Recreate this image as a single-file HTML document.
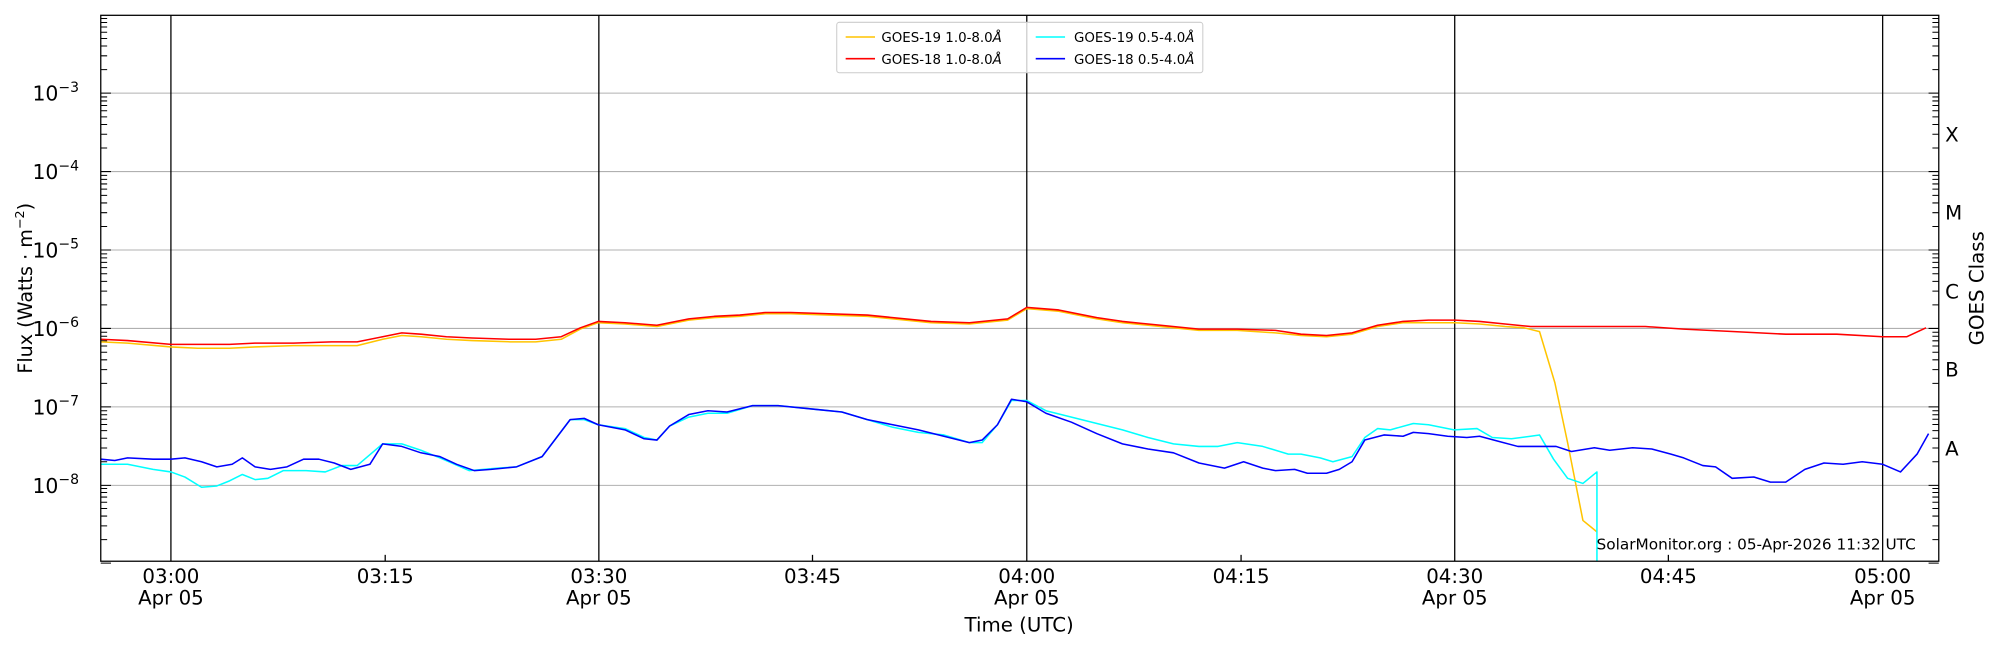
<!DOCTYPE html>
<html><head><meta charset="utf-8"><style>
html,body{margin:0;padding:0;background:#fff;}
svg{display:block;font-family:"DejaVu Sans","Liberation Sans",sans-serif;}
</style></head><body>
<svg width="2000" height="650" viewBox="0 0 1568 509.6" xmlns="http://www.w3.org/2000/svg">
<defs>
<path id="dec" d="M79,-18.45h5M79,-29.25h5M79,-36.9h5M79,-42.85h5M79,-47.7h5M79,-51.8h5M79,-55.36h5M79,-58.5h5M1515,-18.45h5M1515,-29.25h5M1515,-36.9h5M1515,-42.85h5M1515,-47.7h5M1515,-51.8h5M1515,-55.36h5M1515,-58.5h5M79,0h8M1512,0h8" stroke="#000" stroke-width="0.8" fill="none"/>
</defs>
<rect width="1568" height="510" fill="#fff"/>
<g stroke="#b0b0b0" stroke-width="0.8">
<line x1="79" x2="1520" y1="73" y2="73"/><line x1="79" x2="1520" y1="134.5" y2="134.5"/>
<line x1="79" x2="1520" y1="196" y2="196"/><line x1="79" x2="1520" y1="257.5" y2="257.5"/>
<line x1="79" x2="1520" y1="319" y2="319"/><line x1="79" x2="1520" y1="380.5" y2="380.5"/>
</g>
<g stroke="#000" stroke-width="1">
<line x1="134" x2="134" y1="12" y2="440"/><line x1="469.5" x2="469.5" y1="12" y2="440"/>
<line x1="805" x2="805" y1="12" y2="440"/><line x1="1140.5" x2="1140.5" y1="12" y2="440"/>
<line x1="1476" x2="1476" y1="12" y2="440"/>
<line x1="302" x2="302" y1="440" y2="435"/><line x1="637" x2="637" y1="440" y2="435"/>
<line x1="973" x2="973" y1="440" y2="435"/><line x1="1308" x2="1308" y1="440" y2="435"/>
</g>
<use href="#dec" transform="translate(0,441.5)"/>
<use href="#dec" transform="translate(0,380.5)"/>
<use href="#dec" transform="translate(0,319)"/>
<use href="#dec" transform="translate(0,257.5)"/>
<use href="#dec" transform="translate(0,196)"/>
<use href="#dec" transform="translate(0,134.5)"/>
<use href="#dec" transform="translate(0,73)"/>
<g fill="none" stroke-width="1.2" stroke-linejoin="round">
<polyline stroke="#ffc400" points="79,268 100,269 134,272 155,273 180,273 200,272 230,271 260,271 280,271 300,266 315,263 330,264 350,266 370,267 400,268 420,268 440,266 455,258 469,253 490,254 515,256 540,251 560,249 580,248 600,246 620,246 650,247 680,248 700,250 730,253 760,254 790,251 805,242 830,244 860,250 880,253 910,256 940,259 970,259 1000,261 1020,263 1040,264 1060,262 1080,256 1100,253 1120,253 1141,253 1160,254 1180,256 1195,257 1207,260 1219,300 1229,347 1241,408 1252,417"/>
<polyline stroke="#ff0000" points="79,266 100,267 134,270 155,270 180,270 200,269 230,269 260,268 280,268 300,264 315,261 330,262 350,264 370,265 400,266 420,266 440,264 455,257 469,252 490,253 515,255 540,250 560,248 580,247 600,245 620,245 650,246 680,247 700,249 730,252 760,253 790,250 805,241 830,243 860,249 880,252 910,255 940,258 970,258 1000,259 1020,262 1040,263 1060,261 1080,255 1100,252 1120,251 1141,251 1160,252 1180,254 1200,256 1230,256 1260,256 1290,256 1320,258 1360,260 1400,262 1440,262 1476,264 1495,264 1510,257"/>
<polyline stroke="#00ffff" points="79,364 100,364 120,368 134,370 145,374 158,382 170,381 180,377 190,372 200,376 210,375 222,369 240,369 255,370 268,365 280,365 300,348 315,348 330,353 345,359 368,369 390,367 405,366 425,358 447,329 458,329 469,333 490,336 505,343 515,345 525,334 540,327 555,324 570,324 590,318 610,318 640,321 660,323 680,329 700,335 720,339 740,341 760,347 770,347 782,333 793,314 805,314 820,322 840,327 860,332 880,337 900,343 920,348 940,350 955,350 970,347 990,350 1010,356 1020,356 1035,359 1045,362 1060,358 1070,343 1080,336 1090,337 1108,332 1120,333 1140,337 1158,336 1170,343 1185,344 1200,342 1207,341 1218,360 1229,375 1241,379 1252,370 1252,440"/>
<polyline stroke="#0000ff" points="79,360 90,361 100,359 120,360 134,360 145,359 158,362 170,366 182,364 190,359 200,366 212,368 225,366 238,360 250,360 262,363 275,368 290,364 300,348 315,350 330,355 345,358 358,364 372,369 385,368 405,366 425,358 447,329 458,328 469,333 490,337 505,344 515,345 525,334 540,325 555,322 570,323 590,318 610,318 640,321 660,323 680,329 700,333 720,337 740,342 760,347 770,345 782,333 793,313 805,315 820,324 840,331 860,340 880,348 900,352 920,355 940,363 960,367 975,362 990,367 1000,369 1015,368 1025,371 1040,371 1050,368 1060,362 1070,345 1085,341 1100,342 1108,339 1120,340 1135,342 1150,343 1160,342 1175,346 1190,350 1205,350 1220,350 1232,354 1250,351 1262,353 1280,351 1295,352 1310,356 1320,359 1335,365 1345,366 1358,375 1375,374 1388,378 1400,378 1415,368 1430,363 1445,364 1460,362 1476,364 1490,370 1503,356 1512,340"/>
</g>
<rect x="79" y="12" width="1441" height="428" fill="none" stroke="#000" stroke-width="1"/>
<rect x="656" y="17.5" width="287" height="39.5" rx="2" fill="#fff" fill-opacity="0.8" stroke="#ccc" stroke-width="0.8"/>
<g font-size="10.5" fill="#000">
<line x1="663" x2="686" y1="29" y2="29" stroke="#ffc400" stroke-width="1.2"/><text x="691" y="33">GOES-19 1.0-8.0<tspan font-style="italic">Å</tspan></text>
<line x1="663" x2="686" y1="46" y2="46" stroke="#ff0000" stroke-width="1.2"/><text x="691" y="50">GOES-18 1.0-8.0<tspan font-style="italic">Å</tspan></text>
<line x1="812" x2="835" y1="29" y2="29" stroke="#00ffff" stroke-width="1.2"/><text x="842" y="33">GOES-19 0.5-4.0<tspan font-style="italic">Å</tspan></text>
<line x1="812" x2="835" y1="46" y2="46" stroke="#0000ff" stroke-width="1.2"/><text x="842" y="50">GOES-18 0.5-4.0<tspan font-style="italic">Å</tspan></text>
</g>
<g font-size="16" fill="#000" text-anchor="end">
<text x="62" y="79">10<tspan font-size="11" dy="-7">−3</tspan></text>
<text x="62" y="140.5">10<tspan font-size="11" dy="-7">−4</tspan></text>
<text x="62" y="202">10<tspan font-size="11" dy="-7">−5</tspan></text>
<text x="62" y="263.5">10<tspan font-size="11" dy="-7">−6</tspan></text>
<text x="62" y="325">10<tspan font-size="11" dy="-7">−7</tspan></text>
<text x="62" y="386.5">10<tspan font-size="11" dy="-7">−8</tspan></text>
</g>
<text transform="translate(25,226) rotate(-90)" font-size="15" text-anchor="middle">Flux (Watts · m<tspan font-size="10" dy="-6">−2</tspan><tspan dy="6">)</tspan></text>
<g font-size="15.5" text-anchor="middle">
<text x="134" y="457">03:00</text><text x="134" y="474">Apr 05</text>
<text x="302" y="457">03:15</text>
<text x="469.5" y="457">03:30</text><text x="469.5" y="474">Apr 05</text>
<text x="637" y="457">03:45</text>
<text x="805" y="457">04:00</text><text x="805" y="474">Apr 05</text>
<text x="973" y="457">04:15</text>
<text x="1140.5" y="457">04:30</text><text x="1140.5" y="474">Apr 05</text>
<text x="1308" y="457">04:45</text>
<text x="1476" y="457">05:00</text><text x="1476" y="474">Apr 05</text>
<text x="799" y="495">Time (UTC)</text>
</g>
<g font-size="15.5">
<text x="1525" y="111">X</text><text x="1525" y="172">M</text><text x="1525" y="234">C</text>
<text x="1525" y="295">B</text><text x="1525" y="357">A</text>
</g>
<text transform="translate(1555,226) rotate(-90)" font-size="15.5" text-anchor="middle">GOES Class</text>
<text x="1502" y="431" font-size="12" text-anchor="end">SolarMonitor.org : 05-Apr-2026 11:32 UTC</text>
</svg>
</body></html>
